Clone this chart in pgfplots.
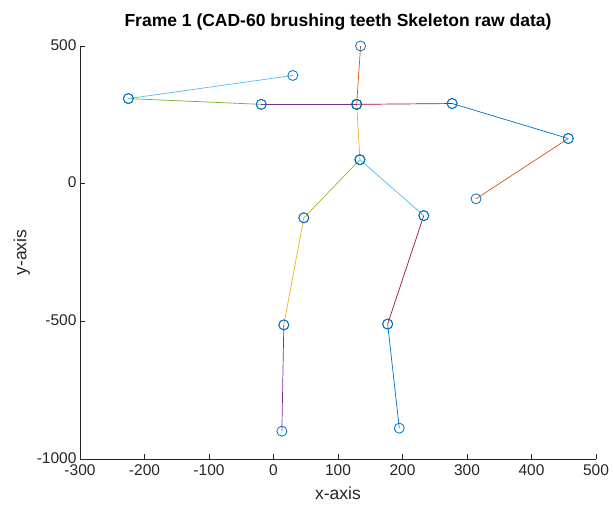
\documentclass[border=0pt]{standalone}
\usepackage{pgfplots}
\pgfplotsset{compat=1.18}
\usepackage{fontspec}
\setmainfont{Liberation Sans}
\definecolor{mblue}{rgb}{0,0.447,0.741}
\definecolor{morange}{rgb}{0.85,0.325,0.098}
\definecolor{myellow}{rgb}{0.929,0.694,0.125}
\definecolor{mpurple}{rgb}{0.494,0.184,0.556}
\definecolor{mgreen}{rgb}{0.466,0.674,0.188}
\definecolor{mlblue}{rgb}{0.301,0.745,0.933}
\definecolor{mred}{rgb}{0.635,0.078,0.184}
\definecolor{axgray}{rgb}{0.15,0.15,0.15}
\begin{document}
\begin{tikzpicture}
\begin{axis}[
  at={(0,0)}, anchor=south west,
  scale only axis, width=516pt, height=413pt,
  xmin=-300, xmax=500, ymin=-1000, ymax=500,
  xtick={-300,-200,...,500}, ytick={-1000,-500,0,500},
  axis lines*=left,
  axis line style={axgray, line width=0.6pt},
  tick style={axgray, line width=0.6pt},
  major tick length=5pt,
  tick align=inside,
  ticklabel style={font=\fontsize{15.5}{17}\selectfont, text=axgray},
  xticklabel style={yshift=-2.5pt},
  yticklabel style={yshift=1pt},
  /pgf/number format/assume math mode=true,
  /pgf/number format/set thousands separator={},
  xlabel={x-axis}, ylabel={y-axis},
  label style={font=\fontsize{17.5}{19}\selectfont, text=axgray},
  xlabel style={yshift=-4pt},
  ylabel style={yshift=0pt},
  title={Frame 1 (CAD-60 brushing teeth Skeleton raw data)},
  title style={font=\bfseries\fontsize{17.5}{20}\selectfont, yshift=6pt},
  every axis plot/.append style={line width=0.7pt, mark=o, mark size=5pt,
     mark options={mblue, line width=0.8pt, fill=none}},
  clip=false,
]
\addplot[morange] coordinates {(135,500) (129,288)};
\addplot[myellow] coordinates {(129,288) (134,87)};
\addplot[mpurple] coordinates {(129,288) (-19,288)};
\addplot[mgreen] coordinates {(-19,288) (-225,309)};
\addplot[mlblue] coordinates {(-225,309) (30,393)};
\addplot[mred] coordinates {(129,288) (277,291)};
\addplot[mblue] coordinates {(277,291) (457,164)};
\addplot[morange] coordinates {(457,164) (314,-55)};
\addplot[mgreen!60!myellow] coordinates {(134,87) (47,-124)};
\addplot[mlblue] coordinates {(134,87) (233,-116)};
\addplot[myellow] coordinates {(47,-124) (16,-513)};
\addplot[mpurple] coordinates {(16,-513) (13,-899)};
\addplot[mred] coordinates {(233,-116) (177,-510)};
\addplot[mblue] coordinates {(177,-510) (195,-888)};
\end{axis}
\pgfresetboundingbox
\useasboundingbox (-80pt,-51pt) rectangle (533pt,459pt);
\end{tikzpicture}
\end{document}
